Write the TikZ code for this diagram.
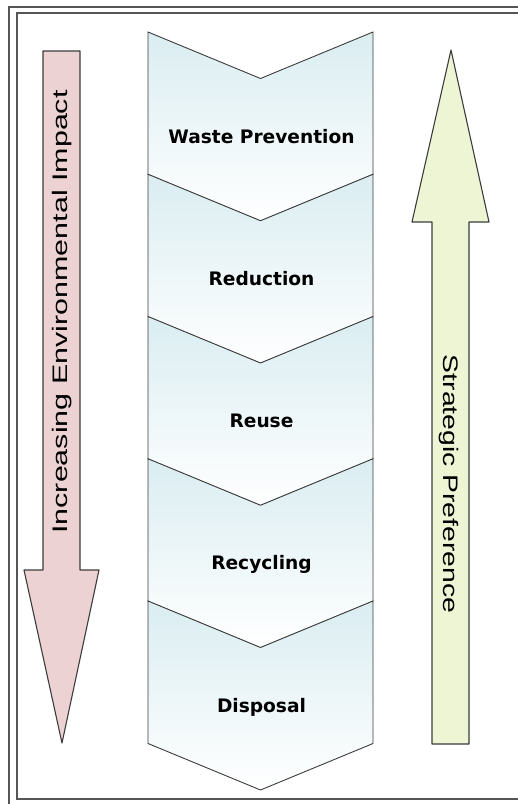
\documentclass[tikz,border=0pt]{standalone}
\usepackage{fontspec}
\usepackage{tikz}
\newfontfamily\stagefont{DejaVu Sans}
\newfontfamily\arrowfont{Liberation Sans}
\definecolor{chevblue}{RGB}{218,237,241}
\definecolor{chevline}{RGB}{60,60,60}
\definecolor{impactpink}{RGB}{236,210,210}
\definecolor{prefgreen}{RGB}{237,245,212}
\definecolor{framegray}{RGB}{85,85,85}
\tikzset{
  stagetext/.style={anchor=base,font=\stagefont\bfseries\fontsize{18.6}{22}\selectfont},
  arrowtext/.style={font=\arrowfont\fontsize{21}{24}\selectfont,inner sep=0pt}
}

\begin{document}
\begin{tikzpicture}[x=1pt,y=-1pt]
\useasboundingbox (0,0) rectangle (518,804);
\fill[white] (0,0) rectangle (518,804);
\begin{scope}
\clip (0,0) rectangle (518,804);
%% frame
\draw[framegray,line width=1.6pt] (9,7) rectangle (540,830);
\draw[framegray,line width=1.6pt] (17,13) rectangle (525,799);
\end{scope}
%% chevrons
\foreach \lbl [count=\i from 0] in {Waste Prevention,Reduction,Reuse,Recycling,Disposal} {
  \pgfmathsetmacro\yt{32+142.25*\i}
  \shade[top color=chevblue,bottom color=white,draw=chevline,line width=0.9pt]
    (148,\yt) -- (260.5,\yt+46.5) -- (373,\yt) -- (373,\yt+142.5)
    -- (260.5,\yt+189) -- (148,\yt+142.5) -- cycle;
  \node[stagetext] (stage\i) at (261.5,\yt+111) {\lbl};
}
%% arrow down
\draw[fill=impactpink,draw=chevline,line width=1.1pt,line join=round]
  (43,51) -- (80,51) -- (80,570) -- (99,570) -- (62,743) -- (24,570) -- (43,570) -- cycle;
\node[arrowtext,rotate=90,xscale=1.45] (impact) at (62.5,312) {Increasing Environmental Impact};
%% arrow up
\draw[fill=prefgreen,draw=chevline,line width=1.1pt,line join=round]
  (432,744) -- (469,744) -- (469,222) -- (489,222) -- (451,50) -- (412,222) -- (432,222) -- cycle;
\node[arrowtext,rotate=-90,xscale=1.35] (pref) at (449,484) {Strategic Preference};
\end{tikzpicture}
\end{document}
